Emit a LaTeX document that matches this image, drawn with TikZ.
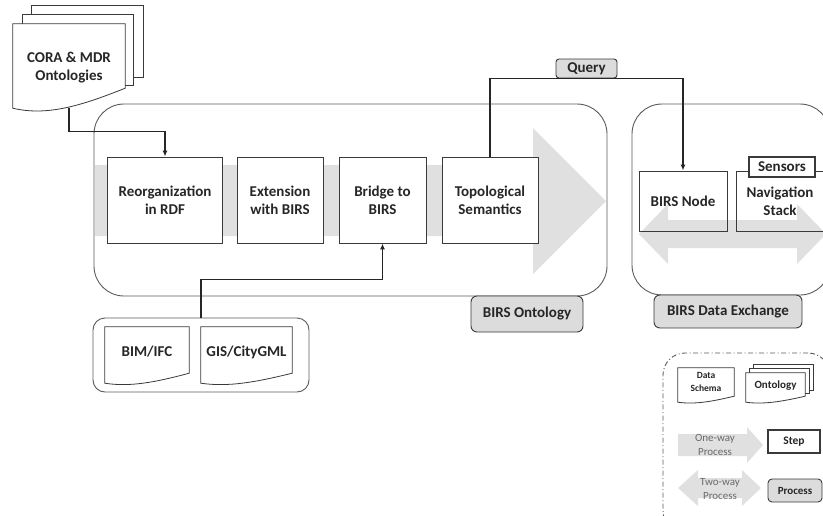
\documentclass[tikz,border=0pt]{standalone}
\usepackage{fontspec}
\setmainfont{Carlito}
\usetikzlibrary{calc,arrows.meta,backgrounds}

\definecolor{inkc}{HTML}{262626}
\definecolor{linec}{HTML}{3A3A3A}
\definecolor{framec}{HTML}{5A5A5A}
\definecolor{flowc}{HTML}{E0E0E0}
\definecolor{tagc}{HTML}{DCDCDC}
\definecolor{legtextc}{HTML}{6A6A6A}

\tikzset{
  every node/.style={font=\fontsize{15}{18}\selectfont\bfseries, text=inkc,
    inner sep=0pt, align=center},
  panel/.style={draw=framec, line width=0.9pt, rounded corners=30pt},
  stepbox/.style={draw=linec, line width=0.9pt, fill=white, minimum height=86},
  openbox/.style={draw=linec, line width=0.9pt, minimum height=60},
  tagbox/.style={draw=linec, line width=1.3pt, fill=white},
  tag/.style={draw=linec, line width=0.9pt, fill=tagc, rounded corners=6pt},
  docbox/.style={},
  docline/.style={draw=linec, line width=0.8pt, fill=white},
  flow/.style={fill=flowc},
  conn/.style={draw=inkc, line width=1.2pt, -{Latex[length=6pt,width=5pt]}},
  legtext/.style={font=\fontsize{11}{14}\selectfont, text=legtextc},
}

% document outline around a node: #1 node, #2 rise of the right corner, #3 extra depth
\newcommand\docoutline[3]{%
  \draw[docline] (#1.north west) -- (#1.north east) -- ($(#1.south east)+(0,#3-#2)$)
    .. controls ($(#1.south west)!0.6!(#1.south east)+(0,#3-0.1*#2)$)
    and ($(#1.south west)!0.3!(#1.south east)+(0,#3+0.4*#2)$)
    .. ($(#1.south west)+(0,#3)$) -- cycle;}

\begin{document}
\begin{tikzpicture}[x=1pt,y=-1pt]
\useasboundingbox (0,0) rectangle (823,515);
\clip (0,0) rectangle (823,515);

% one-way flow behind the ontology steps
\fill[flow] (95,165) -- (533,165) -- (533,128) -- (606,201) -- (533,274)
  -- (533,236) -- (95,236) -- cycle;

% containers
\node[panel, minimum width=513, minimum height=192] (onto) at (350.5,200) {};
\node[panel, minimum width=198, minimum height=191] (xpanel) at (731,199.5) {};
\node[panel, rounded corners=12pt, minimum width=216, minimum height=74] (grp) at (201,355) {};

% two-way exchange
\fill[flow] (639,234) -- (668,204) -- (668,220) -- (797,220) -- (797,204) -- (826,234)
  -- (797,264) -- (797,248) -- (668,248) -- (668,264) -- cycle;

% ontology steps
\node[stepbox, minimum width=115] (reorg) at (165,200) {Reorganization\\in RDF};
\node[stepbox, minimum width=86] (extn) at (280,200) {Extension\\with BIRS};
\node[stepbox, minimum width=87] (bridge) at (382.5,200) {Bridge to\\BIRS};
\node[stepbox, minimum width=96] (topo) at (490,200) {Topological\\Semantics};

% data exchange
\node[openbox, minimum width=88] (bnode) at (683,201) {BIRS Node};
\node[openbox, minimum width=88] (nav) at (780,201) {Navigation\\Stack};
\node[tagbox, minimum width=66, minimum height=20] (sensors) at (782,167) {Sensors};

% source documents
\node[docbox, minimum width=112, minimum height=88] (cora) at (69,68) {CORA \& MDR\\Ontologies};
\node[docbox, minimum width=84, minimum height=50] (bim) at (147,352) {BIM/IFC};
\node[docbox, minimum width=91, minimum height=50] (gis) at (246.5,352) {GIS/CityGML};
\begin{scope}[on background layer]
  \draw[docline] ($(cora.north west)+(19,-18)$) rectangle ($(cora.north east)+(18,54)$);
  \draw[docline] ($(cora.north west)+(10,-9)$) rectangle ($(cora.north east)+(8,62)$);
  \docoutline{cora}{20}{-4}
  \docoutline{bim}{10}{6}
  \docoutline{gis}{10}{6}
\end{scope}

% labels
\node[tag, rounded corners=3pt, minimum width=61, minimum height=19] (query) at (586.5,68.5) {Query};
\node[tag, minimum width=112, minimum height=36] (ontotag) at (527,314) {BIRS Ontology};
\node[tag, minimum width=148, minimum height=33] (xtag) at (728,311.5) {BIRS Data Exchange};

% connectors
\draw[conn] ($(cora.south)+(0,-4.5)$) |- ($(reorg.north)+(0,-25)$) -- (reorg.north);
\draw[conn] (topo.north) |- (query.south) -| (bnode.north);
\draw[conn] (grp.north) -- ++(0,-38) -| (bridge.south);

% legend
\node[panel, rounded corners=22pt, dash pattern=on 5pt off 2.5pt on 1pt off 2.5pt,
  minimum width=167, minimum height=180] (legend) at (746.5,443) {};
\node[docbox, font=\fontsize{9.5}{12.5}\selectfont\bfseries, minimum width=56, minimum height=28]
  (dschema) at (706,382) {Data\\Schema};
\node[docbox, font=\fontsize{11}{13}\selectfont\bfseries, minimum width=59, minimum height=26]
  (legonto) at (775.5,386) {Ontology};
\begin{scope}[on background layer]
  \docoutline{dschema}{6}{6}
  \draw[docline] ($(legonto.north west)+(8,-8)$) rectangle ($(legonto.north east)+(8,18)$);
  \draw[docline] ($(legonto.north west)+(4,-4)$) rectangle ($(legonto.north east)+(4,21)$);
  \docoutline{legonto}{6}{3}
\end{scope}
\fill[flow] (678,434) -- (747,434) -- (747,427) -- (763,445) -- (747,463) -- (747,456)
  -- (678,456) -- cycle;
\node[legtext] (oneway) at (715,445) {One-way\\Process};
\node[stepbox, line width=1.2pt, minimum width=52, minimum height=23,
  font=\fontsize{11.5}{13}\selectfont\bfseries] (legstep) at (794,441.5) {Step};
\fill[flow] (678,488) -- (698,470) -- (698,478) -- (742,478) -- (742,470) -- (761,488)
  -- (742,506) -- (742,498) -- (698,498) -- (698,506) -- cycle;
\node[legtext] (twoway) at (720,489) {Two-way\\Process};
\node[tag, rounded corners=4pt, minimum width=54, minimum height=23,
  font=\fontsize{11}{13}\selectfont\bfseries] (legproc) at (795,490.5) {Process};
\end{tikzpicture}
\end{document}
